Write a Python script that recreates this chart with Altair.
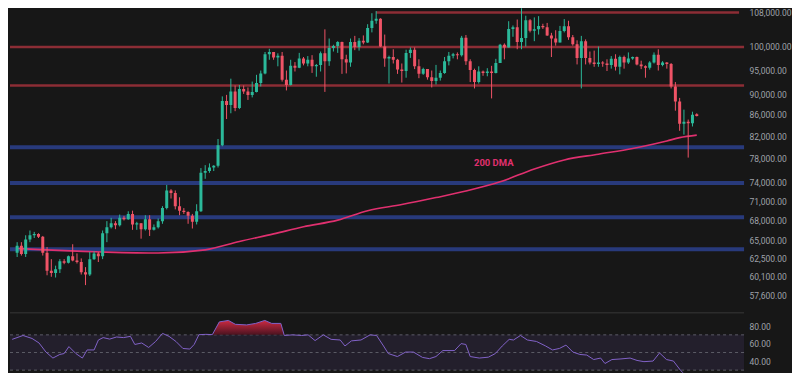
import altair as alt
import pandas as pd

# ---------------- data (daily candles, thousand USD: open, high, low, close) ----------------
sep_2024 = [
    [63.3, 64.8, 62.7, 64.3], [64.3, 64.8, 62.9, 63.1], [63.1, 65.8, 62.7, 65.2],
    [65.2, 66.5, 64.8, 65.8], [65.8, 66.3, 65.4, 66.0], [66.0, 66.1, 65.4, 65.6],
    [65.6, 65.7, 62.9, 63.3],
]
oct_2024 = [
    [63.3, 64.1, 60.2, 60.8], [60.8, 62.4, 60.0, 60.5], [60.5, 61.5, 59.9, 61.0],
    [61.0, 62.4, 60.5, 62.1], [62.1, 62.4, 61.7, 61.9], [61.9, 62.9, 61.8, 62.8],
    [62.8, 64.5, 62.1, 62.2], [62.2, 63.2, 61.8, 62.0], [62.0, 62.5, 60.3, 60.6],
    [60.6, 61.3, 58.9, 60.3], [60.3, 63.4, 60.1, 62.4], [62.4, 63.5, 62.3, 63.2],
    [63.2, 63.4, 62.0, 62.8], [62.8, 66.5, 62.4, 66.1], [66.1, 67.9, 64.8, 67.0],
    [67.0, 68.4, 66.8, 67.6], [67.6, 67.9, 66.7, 67.3], [67.3, 68.9, 67.1, 68.4],
    [68.4, 68.7, 68.0, 68.2], [68.2, 69.4, 68.1, 69.0], [69.0, 69.5, 66.6, 67.4],
    [67.4, 67.8, 66.6, 67.6], [67.6, 67.6, 65.3, 66.7], [66.7, 68.8, 66.5, 68.2],
    [68.2, 68.8, 65.7, 66.6], [66.6, 67.4, 66.5, 67.0], [67.0, 68.3, 66.8, 67.9],
    [67.9, 70.2, 67.5, 69.9], [69.9, 73.6, 69.7, 72.7], [72.7, 72.9, 71.4, 72.3],
    [72.3, 72.7, 69.7, 70.2],
]
nov_2024 = [
    [70.2, 71.6, 68.8, 69.5], [69.5, 69.9, 69.0, 69.3], [69.3, 69.4, 67.5, 68.7],
    [68.7, 69.0, 66.8, 67.8], [67.8, 70.5, 67.4, 69.4], [69.4, 76.4, 69.3, 75.6],
    [75.6, 76.9, 74.6, 75.9], [75.9, 77.2, 75.6, 76.5], [76.5, 76.9, 75.9, 76.8],
    [76.8, 81.5, 76.5, 80.4], [80.4, 89.6, 80.2, 88.7], [88.7, 89.9, 85.2, 87.9],
    [87.9, 93.2, 86.3, 90.6], [90.6, 91.8, 86.7, 87.3], [87.3, 91.9, 87.1, 91.1],
    [91.1, 91.8, 90.1, 90.6], [90.6, 91.4, 88.9, 89.9], [89.9, 92.6, 89.4, 90.5],
    [90.5, 94.0, 90.4, 92.3], [92.3, 94.9, 91.6, 94.3], [94.3, 98.9, 94.1, 98.4],
    [98.4, 99.6, 97.2, 98.9], [98.9, 98.9, 97.2, 97.7], [97.7, 98.6, 95.8, 98.1],
    [98.1, 98.9, 92.6, 93.0], [93.0, 94.9, 90.8, 91.9], [91.9, 97.2, 91.8, 95.9],
    [95.9, 96.7, 94.7, 95.5], [95.5, 98.7, 95.4, 97.5], [97.5, 97.8, 96.0, 96.4],
]
dec_2024 = [
    [96.4, 98.0, 95.8, 97.2], [97.2, 98.2, 94.4, 95.8], [95.8, 96.3, 93.6, 96.1],
    [96.1, 99.0, 94.7, 98.6], [98.6, 104.0, 90.5, 96.9], [96.9, 101.9, 95.9, 99.8],
    [99.8, 100.5, 99.0, 100.2], [100.2, 101.3, 98.7, 101.1], [101.1, 101.2, 94.2, 97.3],
    [97.3, 98.3, 94.3, 96.6], [96.6, 101.9, 95.7, 101.1], [101.1, 102.5, 99.3, 100.0],
    [100.0, 102.0, 99.2, 101.4], [101.4, 102.6, 100.6, 101.0], [101.0, 105.2, 100.9, 104.3],
    [104.3, 107.8, 103.3, 106.0], [106.0, 108.3, 105.3, 106.5], [106.5, 106.6, 100.0, 100.1],
    [100.1, 102.8, 95.7, 97.5], [97.5, 98.1, 92.2, 97.8], [97.8, 99.5, 96.4, 97.2],
    [97.2, 97.4, 94.2, 95.1], [95.1, 96.4, 92.4, 94.8], [94.8, 99.4, 93.4, 98.7],
    [98.7, 99.9, 97.6, 99.4], [99.4, 99.9, 95.2, 95.8], [95.8, 97.3, 93.3, 94.2],
    [94.2, 95.5, 94.0, 95.2], [95.2, 95.2, 93.0, 93.5], [93.5, 94.9, 91.4, 92.7],
    [92.7, 96.1, 92.0, 93.4],
]
jan_2025 = [
    [93.4, 94.9, 92.8, 94.4], [94.4, 97.8, 94.2, 96.9], [96.9, 98.9, 96.0, 98.1],
    [98.1, 98.7, 97.5, 98.4], [98.4, 98.8, 97.3, 98.2], [98.2, 102.5, 97.9, 102.1],
    [102.1, 102.7, 96.1, 96.9], [96.9, 97.3, 92.5, 95.0], [95.0, 95.3, 91.2, 92.5],
    [92.5, 95.8, 92.2, 94.7], [94.7, 94.9, 93.8, 94.4], [94.4, 95.4, 93.7, 94.7],
    [94.7, 95.9, 89.2, 94.4], [94.4, 97.4, 94.3, 96.5], [96.5, 100.7, 96.5, 100.5],
    [100.5, 100.8, 97.3, 99.9], [99.9, 105.9, 99.9, 104.1], [104.1, 104.9, 102.3, 104.5],
    [104.5, 106.3, 99.5, 101.1], [101.1, 109.4, 99.5, 102.0], [102.0, 107.2, 100.1, 106.1],
    [106.1, 106.4, 103.3, 103.7], [103.7, 106.8, 101.3, 104.0], [104.0, 107.1, 102.8, 104.8],
    [104.8, 105.3, 104.1, 104.5], [104.5, 105.5, 102.5, 102.6], [102.6, 103.2, 97.8, 101.9],
    [101.9, 103.8, 100.3, 101.0], [101.0, 104.8, 101.0, 103.6], [103.6, 106.4, 103.3, 104.7],
    [104.7, 106.0, 101.6, 102.2],
]
feb_2025 = [
    [102.2, 102.7, 100.3, 100.6], [100.6, 101.5, 96.2, 97.6], [97.6, 102.5, 91.2, 101.3],
    [101.3, 101.7, 96.2, 97.6], [97.6, 99.0, 96.2, 96.6], [96.6, 99.2, 95.7, 96.3],
    [96.3, 100.1, 95.7, 96.6], [96.6, 96.9, 95.7, 96.4], [96.4, 97.3, 94.8, 96.1],
    [96.1, 98.0, 95.3, 97.4], [97.4, 98.4, 94.9, 95.7], [95.7, 98.1, 94.1, 97.8],
    [97.8, 98.1, 95.3, 96.6], [96.6, 98.8, 96.3, 97.5], [97.5, 97.9, 97.2, 97.8],
    [97.8, 97.9, 96.0, 96.2], [96.2, 97.0, 95.2, 95.8], [95.8, 96.0, 93.4, 95.5],
    [95.5, 96.9, 95.1, 96.6], [96.6, 98.8, 96.4, 98.3], [98.3, 99.5, 94.9, 96.1],
    [96.1, 96.9, 95.8, 96.6], [96.6, 96.7, 95.3, 96.3], [96.3, 96.5, 91.2, 91.6],
    [91.6, 92.5, 86.8, 88.6], [88.6, 89.3, 83.0, 84.3], [84.3, 87.0, 82.3, 84.7],
    [84.7, 85.1, 78.2, 84.4],
]
mar_2025 = [[84.4, 86.6, 83.8, 86.0], [86.1, 86.3, 85.7, 85.8]]

# horizontal levels (USD)
red_levels = [100000, 91800]
blue_levels = [80000, 73900, 68500, 63800]
top_level = 108000
top_level_start = 84          # candle index where the 108k line begins

# 200-day moving average (candle index, USD)
dma_idx = [0, 3, 20, 33, 44, 52, 60, 67, 75, 82, 90, 98, 105, 113, 121, 128, 136, 144, 149, 152, 155, 159]
dma_val = [63900, 63800, 63400, 63250, 63700, 64900, 66000, 67050, 68050, 69500, 70450,
           71550, 72600, 74100, 76250, 77800, 78800, 79800, 80600, 81150, 81750, 82200]
dma_label = "200 DMA"
dma_label_at = (111.5, 77200)

# RSI (candle index, value)
rsi_idx = [0, 2.5, 4.6, 6.2, 7.8, 9.4, 11.0, 12.0, 13.1, 14.7, 16.2, 17.3, 18.9, 19.9, 21.0,
           22.5, 24.1, 25.7, 27.3, 28.3, 29.9, 31.5, 33.1, 34.7, 36.2, 37.8, 39.4, 41.0, 42.0,
           43.1, 44.7, 46.2, 47.8, 49.9, 51.5, 54.1, 56.2, 58.3, 59.9, 62.0, 62.8, 64.7, 66.8,
           68.3, 69.9, 71.8, 73.6, 75.7, 76.8, 78.3, 80.5, 82.6, 84.1, 85.7, 86.8, 88.9, 90.8,
           92.6, 94.7, 96.3, 97.8, 99.4, 102.1, 103.6, 104.7, 105.7, 107.8, 109.9, 111.5, 113.1,
           114.7, 115.7, 117.3, 118.9, 121.0, 123.1, 124.7, 126.3, 127.8, 129.4, 131.0, 132.6,
           134.2, 135.8, 136.8, 138.4, 140.5, 142.6, 144.2, 145.8, 147.9, 149.4, 151.0, 152.6,
           154.2, 155.2, 156.2, 157.2, 158.2, 159]
rsi_val = [64.9, 69.3, 65.9, 60.8, 50.5, 43.7, 47.8, 48.8, 56.7, 48.8, 43.7, 52.9, 52.9, 64.2,
           66.9, 65.2, 67.6, 66.9, 68.3, 59.1, 60.8, 55.7, 62.5, 71.7, 68.3, 62.5, 54.6, 53.9,
           59.1, 70.2, 70.6, 70.3, 84.7, 86.4, 82.0, 81.3, 83.0, 86.4, 83.0, 83.0, 69.3, 70.0,
           69.3, 70.0, 63.5, 70.0, 64.9, 64.2, 57.4, 63.2, 64.2, 70.0, 69.3, 57.4, 48.8, 45.4,
           50.5, 50.5, 44.4, 43.0, 45.4, 52.2, 52.2, 60.1, 59.1, 45.4, 43.7, 44.7, 48.8, 57.4,
           64.9, 64.2, 69.3, 64.2, 62.5, 57.4, 52.9, 54.6, 58.4, 50.5, 47.8, 47.1, 42.0, 43.7,
           37.5, 42.0, 42.7, 43.7, 41.0, 39.6, 40.3, 49.5, 42.0, 40.3, 30.0, 24.9, 22.0, 23.5,
           25.0, 25.5]
rsi_guides = [70, 50, 30]

price_ticks = [57600, 60100, 62500, 65000, 68000, 71000, 74000, 78000, 82000, 86000,
               90000, 95000, 100000, 108000]
rsi_ticks = [40, 60, 80]

# ---------------- tables ----------------
candles = sep_2024 + oct_2024 + nov_2024 + dec_2024 + jan_2025 + feb_2025 + mar_2025
df = pd.DataFrame(candles, columns=["open", "high", "low", "close"]) * 1000
df["i"] = range(len(df))
df["dir"] = ["up" if c >= o else "down" for o, c in zip(df["open"], df["close"])]

dma_df = pd.DataFrame({"i": dma_idx, "v": dma_val})
rsi_df = pd.DataFrame({"i": rsi_idx, "rsi": rsi_val})

# ---------------- styles ----------------
BG = "#171717"
UP, DOWN = "#2bb99a", "#ef5366"
RED_LVL, BLUE_LVL = "#8c2d35", "#283a7c"
DMA_C = "#e0306f"
RSI_C = "#8262c8"

X_END = 168.9
xs = alt.Scale(domain=[-0.5, X_END], nice=False, zero=False)
ys = alt.Scale(type="log", domain=[55500, 109000], nice=False)
rs = alt.Scale(domain=[27, 95], nice=False, zero=False)

yaxis = alt.Axis(orient="right", values=price_ticks, format=",.2f", title=None, grid=False,
                 domain=False, ticks=False, labelPadding=5, labelOverlap=False, labelFlush=False)
raxis = alt.Axis(orient="right", values=rsi_ticks, format=".2f", title=None, grid=False,
                 domain=False, ticks=False, labelPadding=5, labelOverlap=False, labelFlush=False)

color = alt.Color("dir:N", scale=alt.Scale(domain=["up", "down"], range=[UP, DOWN]), legend=None)

# ---------------- main panel ----------------
blue = alt.Chart(pd.DataFrame({"p": blue_levels})).mark_rule(
    color=BLUE_LVL, strokeWidth=4).encode(y=alt.Y("p:Q", scale=ys, axis=yaxis))
red = alt.Chart(pd.DataFrame({"p": red_levels})).mark_rule(
    color=RED_LVL, strokeWidth=2.5).encode(y=alt.Y("p:Q", scale=ys, axis=yaxis))
top = alt.Chart(pd.DataFrame({"p": [top_level], "a": [top_level_start], "b": [X_END]})).mark_rule(
    color=RED_LVL, strokeWidth=2.5).encode(
    x=alt.X("a:Q", scale=xs, axis=None), x2="b:Q", y=alt.Y("p:Q", scale=ys, axis=yaxis))
dma = alt.Chart(dma_df).mark_line(color=DMA_C, strokeWidth=1.6, interpolate="monotone", clip=True).encode(
    x=alt.X("i:Q", scale=xs, axis=None), y=alt.Y("v:Q", scale=ys, axis=yaxis))
wicks = alt.Chart(df).mark_rule(strokeWidth=1, clip=True).encode(
    x=alt.X("i:Q", scale=xs, axis=None), y=alt.Y("low:Q", scale=ys, axis=yaxis), y2="high:Q",
    color=color)
bodies = alt.Chart(df).mark_bar(width=3, clip=True).encode(
    x=alt.X("i:Q", scale=xs, axis=None), y=alt.Y("open:Q", scale=ys, axis=yaxis), y2="close:Q",
    color=color)
label = alt.Chart(pd.DataFrame({"i": [dma_label_at[0]], "p": [dma_label_at[1]], "t": [dma_label]})).mark_text(
    font="Roboto", fontWeight="bold", fontSize=9.5, color=DMA_C).encode(
    x=alt.X("i:Q", scale=xs, axis=None), y=alt.Y("p:Q", scale=ys, axis=yaxis), text="t:N")

main = alt.layer(blue, red, top, dma, wicks, bodies, label).properties(width=735, height=304)

# ---------------- RSI panel ----------------
band = alt.Chart(pd.DataFrame({"lo": [30], "hi": [70]})).mark_rect(
    color="#7e57c2", opacity=0.12).encode(y=alt.Y("lo:Q", scale=rs, axis=raxis), y2="hi:Q")
guides = alt.Chart(pd.DataFrame({"v": rsi_guides})).mark_rule(
    color="#5c5c66", strokeWidth=1, strokeDash=[3, 3]).encode(y=alt.Y("v:Q", scale=rs, axis=raxis))
grad = alt.Gradient(gradient="linear",
                    stops=[alt.GradientStop(color="#cc2a42", offset=0),
                           alt.GradientStop(color="#4a1320", offset=1)],
                    x1=1, x2=1, y1=0, y2=1)
ob = alt.Chart(rsi_df).transform_filter("datum.i >= 45 && datum.i <= 63").transform_calculate(
    ob="max(datum.rsi, 70)", base="70").mark_area(color=grad, clip=True).encode(
    x=alt.X("i:Q", scale=xs, axis=None), y=alt.Y("ob:Q", scale=rs, axis=raxis), y2="base:Q")
rsi_line = alt.Chart(rsi_df).mark_line(color=RSI_C, strokeWidth=1, clip=True).encode(
    x=alt.X("i:Q", scale=xs, axis=None), y=alt.Y("rsi:Q", scale=rs, axis=raxis))
sep = alt.Chart(pd.DataFrame({"v": [0]})).mark_rule(color="#2c2c2c", strokeWidth=1.5).encode(
    y=alt.value(0))

rsi = alt.layer(band, guides, ob, rsi_line, sep).properties(width=735, height=60)

chart = alt.vconcat(main, rsi, spacing=0, padding=0, background=BG).configure_view(
    stroke=None).configure_axis(labelFont="Roboto", labelFontSize=8.5, labelColor="#9fa2a9")

chart.save("out.html", embed_options={"renderer": "svg", "actions": False})
